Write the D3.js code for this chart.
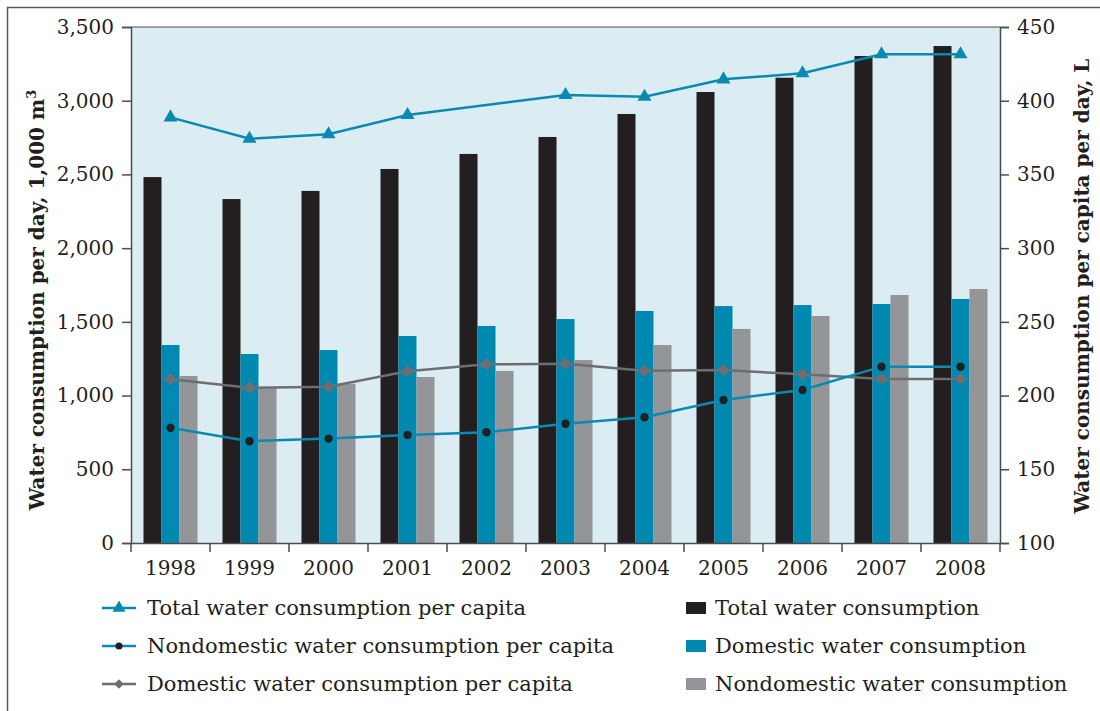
<!DOCTYPE html>
<html>
<head>
<meta charset="utf-8">
<script src="https://cdn.jsdelivr.net/npm/d3@7"></script>
<style>
  html, body { margin: 0; padding: 0; background: #fff; }
  svg { display: block; }
  text { font-family: "DejaVu Serif", "Liberation Serif", serif; fill: #231f20; }
</style>
</head>
<body>
<svg id="chart" width="1100" height="711"></svg>
<script>
// ---- data ----
const years = ["1998","1999","2000","2001","2002","2003","2004","2005","2006","2007","2008"];
const totalConsumption = [2482, 2333, 2388, 2537, 2639, 2754, 2910, 3059, 3156, 3303, 3371];
const domesticConsumption = [1343, 1282, 1309, 1404, 1472, 1519, 1574, 1607, 1614, 1621, 1655];
const nondomesticConsumption = [1133, 1051, 1080, 1126, 1167, 1241, 1343, 1452, 1540, 1682, 1723];
const totalPerCapita = [388.7, 374.2, 377.2, 390.3, null, 403.9, 402.7, 414.5, 418.6, 431.5, 431.5];
const nondomesticPerCapita = [178.2, 169.0, 170.8, 173.3, 175.1, 180.9, 185.3, 197.0, 203.8, 219.6, 219.6];
const domesticPerCapita = [211.0, 205.3, 206.0, 216.5, 221.2, 221.6, 216.9, 217.3, 214.4, 211.2, 211.2];
const leftTicks = [0, 500, 1000, 1500, 2000, 2500, 3000, 3500];
const rightTicks = [100, 150, 200, 250, 300, 350, 400, 450];

const svg = d3.select("#chart");
const M = { left: 131, right: 1000, top: 27, bottom: 543 };

const COL = {
  black: "#231f20", blue: "#0089b0", gray: "#939598",
  bg: "#dbecf3", lineBlue: "#0a8ab0", lineGray: "#6d6e71", axis: "#4d4d4f"
};

// outer frame (top + left)
svg.append("path").attr("d", "M7.5,711 L7.5,7.5 L1100,7.5")
  .attr("fill", "none").attr("stroke", "#58595b").attr("stroke-width", 1.5);

const x = d3.scaleBand().domain(years).range([M.left, M.right]);
const yL = d3.scaleLinear().domain([0, 3500]).range([M.bottom, M.top]);
const yR = d3.scaleLinear().domain([100, 450]).range([M.bottom, M.top]);

// plot background
svg.append("rect").attr("x", M.left).attr("y", M.top)
  .attr("width", M.right - M.left).attr("height", M.bottom - M.top)
  .attr("fill", COL.bg);

// bars
const bw = 18;
const series = [
  { vals: totalConsumption, color: COL.black, off: -1.5 },
  { vals: domesticConsumption, color: COL.blue, off: -0.5 },
  { vals: nondomesticConsumption, color: COL.gray, off: 0.5 }
];
const cx = d => x(d) + x.bandwidth() / 2;
series.forEach(s => {
  svg.append("g").selectAll("rect").data(years).join("rect")
    .attr("x", (d) => cx(d) + s.off * bw)
    .attr("width", bw)
    .attr("y", (d, i) => yL(s.vals[i]))
    .attr("height", (d, i) => yL(0) - yL(s.vals[i]))
    .attr("fill", s.color);
});

// frame top line
svg.append("line").attr("x1", M.left).attr("x2", M.right).attr("y1", M.top).attr("y2", M.top)
  .attr("stroke", COL.axis).attr("stroke-width", 1.2);

// axes
const axisStyle = g => {
  g.select(".domain").attr("stroke", COL.axis).attr("stroke-width", 1.5);
  g.selectAll(".tick line").attr("stroke", COL.axis).attr("stroke-width", 1.5);
  g.selectAll("text").attr("font-size", 20).attr("fill", "#231f20")
    .attr("font-family", '"DejaVu Serif", serif');
};
svg.append("g").attr("transform", `translate(${M.left},0)`)
  .call(d3.axisLeft(yL).tickValues(leftTicks).tickFormat(d3.format(",")).tickSizeOuter(0).tickSize(9).tickPadding(8))
  .call(axisStyle);
svg.append("g").attr("transform", `translate(${M.right},0)`)
  .call(d3.axisRight(yR).tickValues(rightTicks).tickSizeOuter(0).tickSize(9).tickPadding(8))
  .call(axisStyle);
const xAx = svg.append("g").attr("transform", `translate(0,${M.bottom})`)
  .call(d3.axisBottom(x).tickSize(0).tickPadding(18))
  .call(axisStyle);
// boundary tick marks
const bounds = years.map(d => x(d)).concat([M.right]);
xAx.selectAll(".btick").data(bounds).join("line")
  .attr("x1", d => d).attr("x2", d => d).attr("y1", 0).attr("y2", 9)
  .attr("stroke", COL.axis).attr("stroke-width", 1.5);

// lines
const mkLine = () => d3.line()
  .defined(d => d.v != null)
  .x(d => cx(d.y)).y(d => yR(d.v));
const lineData = vals => years.map((y, i) => ({ y, v: vals[i] })).filter(d => d.v != null);

const lines = [
  { vals: domesticPerCapita, color: COL.lineGray, marker: "diamond", mcol: "#6d6e71" },
  { vals: nondomesticPerCapita, color: COL.lineBlue, marker: "circle", mcol: "#231f20" },
  { vals: totalPerCapita, color: COL.lineBlue, marker: "triangle", mcol: COL.lineBlue }
];
const sym = {
  diamond: d3.symbol().type(d3.symbolDiamond2).size(100),
  circle: d3.symbol().type(d3.symbolCircle).size(55),
  triangle: d3.symbol().type(d3.symbolTriangle).size(85)
};
lines.forEach(L => {
  const data = lineData(L.vals);
  svg.append("path").datum(data).attr("d", mkLine()(data))
    .attr("fill", "none").attr("stroke", L.color).attr("stroke-width", 2.5);
  svg.append("g").selectAll("path").data(data).join("path")
    .attr("transform", d => `translate(${cx(d.y)},${yR(d.v)})`)
    .attr("d", sym[L.marker]()).attr("fill", L.mcol);
});

// axis titles
const lt = svg.append("text")
  .attr("transform", `translate(44,300) rotate(-90)`)
  .attr("text-anchor", "middle").attr("font-size", 20).attr("font-weight", "bold");
lt.append("tspan").text("Water consumption per day, 1,000 m");
lt.append("tspan").text("3").attr("font-size", 13).attr("dy", -8);
svg.append("text")
  .attr("transform", `translate(1089,286) rotate(-90)`)
  .attr("text-anchor", "middle").attr("font-size", 20).attr("font-weight", "bold")
  .text("Water consumption per capita per day, L");

// legend
const legLeft = [
  { label: "Total water consumption per capita", color: COL.lineBlue, marker: "triangle", mcol: COL.lineBlue },
  { label: "Nondomestic water consumption per capita", color: COL.lineBlue, marker: "circle", mcol: "#231f20" },
  { label: "Domestic water consumption per capita", color: COL.lineGray, marker: "diamond", mcol: "#6d6e71" }
];
const legRight = [
  { label: "Total water consumption", color: COL.black },
  { label: "Domestic water consumption", color: COL.blue },
  { label: "Nondomestic water consumption", color: COL.gray }
];
const rowY = [608, 646, 684];
legLeft.forEach((d, i) => {
  const g = svg.append("g").attr("transform", `translate(0,${rowY[i]})`);
  g.append("line").attr("x1", 102).attr("x2", 136).attr("y1", 0).attr("y2", 0)
    .attr("stroke", d.color).attr("stroke-width", 2.5);
  g.append("path").attr("transform", "translate(119,0)")
    .attr("d", d3.symbol().type(d.marker === "triangle" ? d3.symbolTriangle : d.marker === "circle" ? d3.symbolCircle : d3.symbolDiamond2)
      .size(d.marker === "triangle" ? 75 : d.marker === "circle" ? 40 : 60)())
    .attr("fill", d.mcol);
  g.append("text").attr("x", 147).attr("y", 7).attr("font-size", 21).text(d.label);
});
legRight.forEach((d, i) => {
  const g = svg.append("g").attr("transform", `translate(0,${rowY[i]})`);
  g.append("rect").attr("x", 686).attr("y", -6).attr("width", 20).attr("height", 12).attr("fill", d.color);
  g.append("text").attr("x", 715).attr("y", 7).attr("font-size", 21).text(d.label);
});
</script>
</body>
</html>
